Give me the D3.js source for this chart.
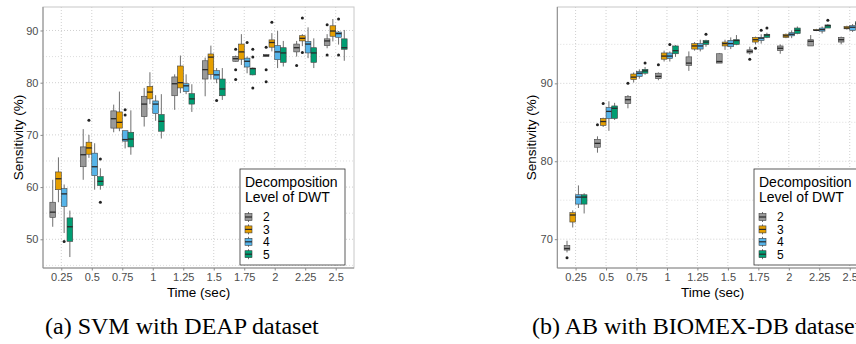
<!DOCTYPE html>
<html><head><meta charset="utf-8">
<script src="https://cdn.jsdelivr.net/npm/d3@7"></script>
<style>body{margin:0;background:#fff}svg{display:block}</style>
</head><body>
<script>
const times = ["0.25","0.5","0.75","1","1.25","1.5","1.75","2","2.25","2.5"];
const levels = ["2","3","4","5"];
const levelColors = ["#999999","#E69F00","#56B4E9","#009E73"];

// (a) SVM with DEAP: [lower whisker, Q1, median, Q3, upper whisker] per time
const deapL2 = [[52.4,54.2,55.2,57.1,61.4],[61.4,63.9,66.2,67.7,71.1],[70.5,71.3,73.1,74.6,75.8],[71.6,73.5,75.9,77.4,79.0],[74.8,77.5,79.8,81.1,81.6],[77.4,80.7,82.5,84.2,84.8],[84.0,84.1,84.6,85.0,85.2],[85.0,85.0,85.2,85.4,85.5],[85.0,85.9,86.7,87.4,88.0],[86.6,87.1,88.0,88.4,89.3]];
const deapL3 = [[57.1,59.5,61.6,62.9,65.7],[65.6,66.3,67.5,68.6,70.0],[70.7,71.3,72.4,74.4,78.3],[75.9,76.9,78.2,79.3,82.0],[78.0,79.0,80.0,83.2,85.2],[80.6,81.6,84.9,85.5,87.1],[83.4,84.5,85.9,87.4,89.3],[86.0,86.8,87.7,88.2,89.5],[87.0,88.0,88.5,89.0,89.3],[87.9,88.9,89.9,90.9,92.2]];
const deapL4 = [[51.2,56.3,58.7,59.7,60.5],[59.5,62.2,63.9,66.5,68.4],[67.4,68.8,69.1,70.8,70.8],[72.7,74.1,75.9,76.5,77.6],[77.8,78.3,79.4,79.8,81.6],[79.9,80.7,81.5,82.3,82.8],[81.8,83.0,84.1,84.7,85.0],[82.8,84.4,85.9,87.1,89.9],[84.7,85.7,87.4,87.9,90.6],[87.3,88.7,89.4,89.7,89.9]];
const deapL5 = [[46.6,49.6,52.4,54.1,55.5],[59.5,60.3,61.1,62.0,63.6],[66.2,67.7,69.2,70.5,74.7],[69.3,70.7,72.6,73.9,77.8],[74.4,75.9,76.9,77.9,79.7],[76.7,77.5,78.8,80.7,82.8],[81.4,81.5,82.7,82.8,82.9],[83.1,83.9,85.7,86.7,88.0],[82.8,83.9,85.7,86.7,88.5],[84.2,86.4,86.7,88.4,90.1]];
const deapOut2 = [[],[],[],[],[],[],[86.4,82.5,80.6],[86.8,82.5,80.2],[83.3],[91.1,85.3]];
const deapOut3 = [[],[72.8],[],[],[],[],[],[91.6],[92.4,85.8],[]];
const deapOut4 = [[49.6],[],[74.8,73.8],[],[],[76.6],[87.7],[],[],[92.2,85.3]];
const deapOut5 = [[],[65.4,57.1],[],[],[],[],[86.4,84.9,79.0],[],[],[]];

// (b) AB with BIOMEX-DB
const bioL2 = [[68.3,68.6,68.8,69.2,69.8],[81.1,81.8,82.3,82.8,83.2],[86.8,87.4,87.9,88.3,88.5],[90.4,90.6,90.9,91.3,91.4],[91.6,92.3,92.6,93.4,94.1],[92.6,92.6,92.8,93.8,93.9],[93.7,93.9,94.1,94.3,94.7],[93.8,94.2,94.5,94.8,95.0],[94.8,94.8,95.4,95.6,96.2],[95.0,95.3,95.6,95.9,96.0]];
const bioL3 = [[71.5,72.2,73.1,73.4,73.7],[84.4,84.6,85.1,85.5,85.6],[90.1,90.5,90.8,91.2,91.4],[92.8,93.1,93.5,93.9,94.2],[94.2,94.4,94.8,95.1,95.3],[94.3,94.8,95.1,95.3,95.6],[95.0,95.3,95.6,95.9,96.0],[95.8,95.9,96.1,96.3,96.4],[96.7,96.8,96.8,96.9,97.0],[96.9,97.0,97.1,97.3,97.4]];
const bioL4 = [[74.0,74.5,75.4,75.7,76.9],[83.9,85.5,86.4,86.9,87.7],[90.6,90.9,91.3,91.5,91.8],[92.8,93.2,93.5,93.9,94.1],[94.1,94.4,94.8,95.1,95.6],[94.4,94.7,95.1,95.5,95.9],[95.1,95.5,95.8,95.9,96.3],[95.8,96.1,96.3,96.5,96.8],[96.4,96.7,96.9,97.1,97.3],[96.6,96.8,97.2,97.4,97.6]];
const bioL5 = [[73.3,74.5,75.4,75.7,75.9],[85.3,85.5,86.8,87.1,87.5],[91.1,91.3,91.6,91.8,92.1],[93.4,93.8,94.2,94.8,94.9],[94.7,95.0,95.3,95.5,95.6],[94.9,95.0,95.5,95.6,96.2],[95.8,95.9,96.2,96.3,96.5],[96.3,96.4,96.8,97.1,97.3],[97.1,97.1,97.4,97.5,97.6],[97.3,97.5,97.7,97.9,98.2]];
const bioOut2 = [[67.6],[84.7],[90.0],[92.4],[],[],[93.1],[],[],[]];
const bioOut3 = [[],[87.4],[],[],[],[],[94.5],[],[],[]];
const bioOut4 = [[],[],[],[95.0],[],[],[96.8],[],[],[]];
const bioOut5 = [[],[],[92.6],[],[96.3],[],[97.1],[],[98.1],[]];

const deapMajor = [50,60,70,80,90], deapMinor = [45,55,65,75,85];
const bioMajor = [70,80,90], bioMinor = [75,85,95];
const captions = ["(a) SVM with DEAP dataset", "(b) AB with BIOMEX-DB dataset"];

const W = 856, H = 344;
const svg = d3.select("body").append("svg").attr("width", W).attr("height", H)
  .style("font-family", "'Liberation Sans', Arial, sans-serif");

function drawPanel(cfg) {
  const g = svg.append("g");
  const x = d3.scalePoint().domain(times).range([cfg.x0, cfg.x1]).padding(0.6);
  const step = x.step();
  const dodge = d3.scaleBand().domain(levels).range([-0.375 * step, 0.375 * step]).padding(0);
  const y = d3.scaleLinear().domain(cfg.domain).range([cfg.y1, cfg.y0]);

  // gridlines
  const grid = g.append("g").attr("stroke", "#c4c4c4").attr("stroke-dasharray", "1,2").attr("stroke-width", 0.8);
  grid.selectAll(".hmin").data(cfg.minor).join("line")
    .attr("x1", cfg.x0).attr("x2", cfg.x1).attr("y1", d => y(d)).attr("y2", d => y(d)).attr("stroke","#d6d6d6");
  grid.selectAll(".hmaj").data(cfg.major).join("line")
    .attr("x1", cfg.x0).attr("x2", cfg.x1).attr("y1", d => y(d)).attr("y2", d => y(d));
  grid.selectAll(".v").data(times).join("line")
    .attr("x1", d => x(d)).attr("x2", d => x(d)).attr("y1", cfg.y0).attr("y2", cfg.y1);

  // boxes
  const series = levels.map((lv, i) => ({lv, color: levelColors[i], stats: cfg.stats[i], out: cfg.outs[i]}));
  series.forEach(s => {
    const bw = dodge.bandwidth();
    s.stats.forEach((st, ti) => {
      const cx = x(times[ti]) + dodge(s.lv) + bw / 2;
      const bg = g.append("g");
      bg.append("line").attr("x1", cx).attr("x2", cx).attr("y1", y(st[4])).attr("y2", y(st[3]))
        .attr("stroke", "#4a4a4a").attr("stroke-width", 0.8);
      bg.append("line").attr("x1", cx).attr("x2", cx).attr("y1", y(st[1])).attr("y2", y(st[0]))
        .attr("stroke", "#4a4a4a").attr("stroke-width", 0.8);
      bg.append("rect").attr("x", cx - bw / 2).attr("width", bw)
        .attr("y", y(st[3])).attr("height", Math.max(0.8, y(st[1]) - y(st[3])))
        .attr("fill", s.color).attr("stroke", "#404040").attr("stroke-width", 0.6);
      bg.append("line").attr("x1", cx - bw / 2).attr("x2", cx + bw / 2).attr("y1", y(st[2])).attr("y2", y(st[2]))
        .attr("stroke", "#2a2a2a").attr("stroke-width", 1.3);
      s.out[ti].forEach(o => {
        bg.append("circle").attr("cx", cx).attr("cy", y(o)).attr("r", 1.5).attr("fill", "#222");
      });
    });
  });

  // panel border
  g.append("rect").attr("x", cfg.x0).attr("y", cfg.y0).attr("width", cfg.x1 - cfg.x0).attr("height", cfg.y1 - cfg.y0)
    .attr("fill", "none").attr("stroke", "#c8c8c8").attr("stroke-width", 1);
  g.append("line").attr("x1", cfg.x0).attr("x2", cfg.x0).attr("y1", cfg.y0).attr("y2", cfg.y1).attr("stroke", "#8a8a8a");
  g.append("line").attr("x1", cfg.x0).attr("x2", cfg.x1).attr("y1", cfg.y1).attr("y2", cfg.y1).attr("stroke", "#8a8a8a");

  // axes
  const ya = g.append("g").attr("transform", `translate(${cfg.x0},0)`)
    .call(d3.axisLeft(y).tickValues(cfg.major).tickSize(2.5).tickPadding(2).tickFormat(d3.format("d")));
  ya.select(".domain").remove();
  ya.selectAll("line").attr("stroke", "#8a8a8a");
  ya.selectAll("text").attr("fill", "#4d4d4d").style("font-size", "11px").style("font-family", "'Liberation Sans', Arial, sans-serif");

  const xa = g.append("g").attr("transform", `translate(0,${cfg.y1})`)
    .call(d3.axisBottom(x).tickSize(2.5).tickPadding(3));
  xa.select(".domain").remove();
  xa.selectAll("line").attr("stroke", "#8a8a8a");
  xa.selectAll("text").attr("fill", "#4d4d4d").style("font-size", "11px").style("font-family", "'Liberation Sans', Arial, sans-serif");

  // axis titles
  g.append("text").attr("transform", `translate(${cfg.yTitleX},${(cfg.y0 + cfg.y1) / 2}) rotate(-90)`)
    .attr("text-anchor", "middle").style("font-size", "13.5px").attr("fill", "#000").text("Sensitivity (%)");
  g.append("text").attr("x", (cfg.x0 + cfg.x1) / 2).attr("y", 297)
    .attr("text-anchor", "middle").style("font-size", "13.5px").attr("fill", "#000").text("Time (sec)");

  // legend
  const lx = cfg.x1 - 114, ly = 169;
  const lg = g.append("g").attr("transform", `translate(${lx},${ly})`);
  lg.append("rect").attr("x", 0).attr("y", 0).attr("width", 105).attr("height", 96)
    .attr("fill", "#fff").attr("stroke", "#333").attr("stroke-width", 0.8);
  lg.append("text").attr("x", 5).attr("y", 17.5).style("font-size", "14px").text("Decomposition");
  lg.append("text").attr("x", 5).attr("y", 32.5).style("font-size", "14px").text("Level of DWT");
  levels.forEach((lv, i) => {
    const cy = 48 + i * 12.4;
    const k = lg.append("g");
    k.append("line").attr("x1", 8.5).attr("x2", 8.5).attr("y1", cy - 5).attr("y2", cy + 5).attr("stroke", "#4a4a4a").attr("stroke-width", 0.8);
    k.append("rect").attr("x", 5).attr("y", cy - 3.5).attr("width", 7).attr("height", 7)
      .attr("fill", levelColors[i]).attr("stroke", "#404040").attr("stroke-width", 0.6);
    k.append("line").attr("x1", 5).attr("x2", 12).attr("y1", cy).attr("y2", cy).attr("stroke", "#2a2a2a").attr("stroke-width", 1.2);
    lg.append("text").attr("x", 23).attr("y", cy + 4.3).style("font-size", "12px").text(lv);
  });

  // caption
  svg.append("text").attr("x", cfg.capX).attr("y", 334)
    .style("font-family", "'Liberation Serif', 'Times New Roman', serif")
    .style("font-size", "24px").attr("fill", "#000").text(cfg.caption);
}

drawPanel({x0: 43, x1: 354, y0: 7, y1: 268, domain: [44.5, 94.5], major: deapMajor, minor: deapMinor,
  stats: [deapL2, deapL3, deapL4, deapL5], outs: [deapOut2, deapOut3, deapOut4, deapOut5], yTitleX: 23,
  caption: captions[0], capX: 45});
drawPanel({x0: 557.3, x1: 868, y0: 7, y1: 268, domain: [66.3, 99.8], major: bioMajor, minor: bioMinor,
  stats: [bioL2, bioL3, bioL4, bioL5], outs: [bioOut2, bioOut3, bioOut4, bioOut5], yTitleX: 536,
  caption: captions[1], capX: 532});
</script>
</body></html>
